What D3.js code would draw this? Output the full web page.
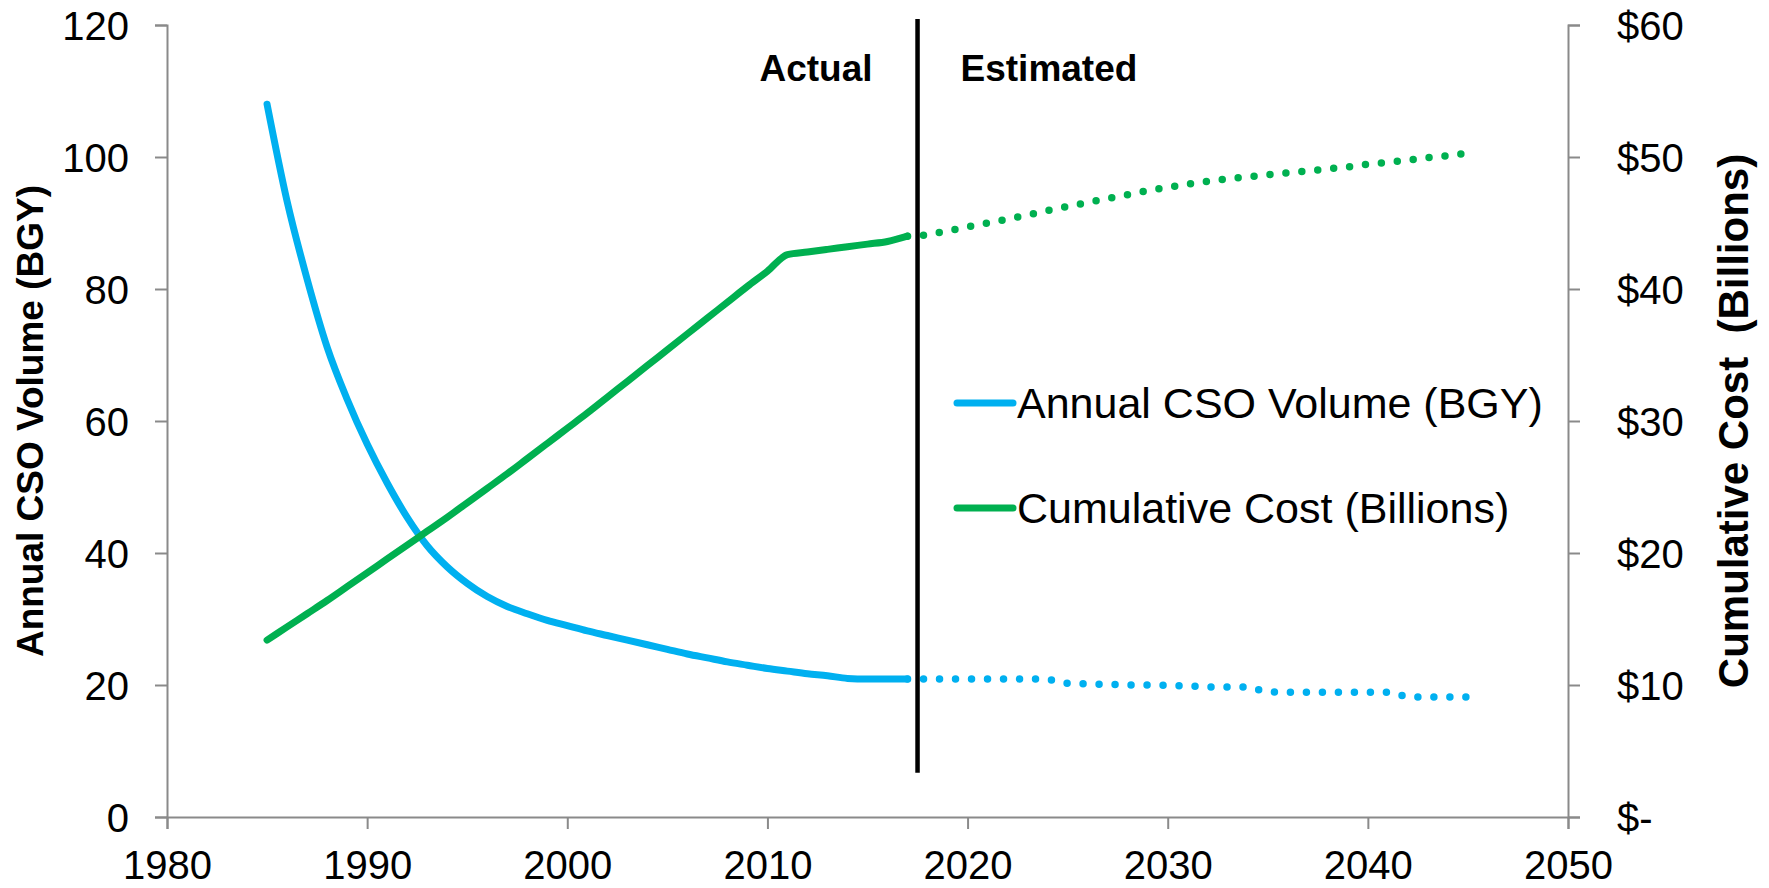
<!DOCTYPE html>
<html>
<head>
<meta charset="utf-8">
<script src="https://cdn.jsdelivr.net/npm/d3@7"></script>
<style>
  html, body { margin: 0; padding: 0; background: #fff; }
  svg { display: block; font-family: "Liberation Sans", Arial, sans-serif; }
</style>
</head>
<body>
<svg id="chart" width="1769" height="888"></svg>
<script>
// ---- Data -------------------------------------------------------------
const actualYears = d3.range(1985, 2018);      // 1985..2017
const estimatedYears = d3.range(2017, 2046);   // 2017..2045

// Annual CSO volume, billion gallons per year (left axis)
const volumeActual = [
  108.0, 93.3, 81.5, 71.2, 63.3, 56.5, 50.6, 45.4, 41.1, 37.9,
  35.4, 33.4, 31.9, 30.8, 29.8, 29.0, 28.2, 27.5, 26.8, 26.1,
  25.4, 24.7, 24.1, 23.5, 23.0, 22.5, 22.1, 21.7, 21.4, 21.0,
  20.9, 20.9, 20.9
];
const volumeEstimated = [
  20.9, 20.9, 20.9, 20.9, 20.9, 20.9, 20.9, 20.9, 20.25, 20.15,
  20.1, 20.0, 20.0, 19.95, 19.85, 19.7, 19.7, 19.7, 18.95, 18.9,
  18.9, 18.9, 18.9, 18.9, 18.9, 18.2, 18.2, 18.2, 18.2
];

// Cumulative cost, billions of dollars (right axis)
const costActual = [
  13.4, 14.4, 15.4, 16.4, 17.45, 18.5, 19.55, 20.6, 21.65, 22.7,
  23.8, 24.9, 26.0, 27.15, 28.3, 29.45, 30.6, 31.8, 33.0, 34.2,
  35.4, 36.6, 37.8, 39.0, 40.2, 41.35, 42.6, 42.8, 43.0, 43.2,
  43.4, 43.6, 44.0
];
const costEstimated = [
  44.0, 44.1, 44.4, 44.7, 45.0, 45.3, 45.6, 45.95, 46.25, 46.55,
  46.85, 47.15, 47.45, 47.7, 47.95, 48.15, 48.35, 48.5, 48.65, 48.8,
  48.95, 49.1, 49.25, 49.45, 49.6, 49.75, 49.95, 50.1, 50.3
];

const xTicks = [1980, 1990, 2000, 2010, 2020, 2030, 2040, 2050];
const leftTicks = [0, 20, 40, 60, 80, 100, 120];
const rightTicks = [0, 10, 20, 30, 40, 50, 60];

// Boundary between actual and estimated figures
const dividerYear = 2017.5;
const dividerSpan = [6.7, 120.9];   // in left-axis units

const seriesNames = ["Annual CSO Volume (BGY)", "Cumulative Cost (Billions)"];

// ---- Layout -----------------------------------------------------------
const W = 1769, H = 888;
const margin = { top: 25, right: 201, bottom: 71, left: 167 };
const BLUE = "#00B0F0", GREEN = "#00B050", AXIS = "#8a8a8a";

const svg = d3.select("#chart");

const x = d3.scaleLinear().domain([1980, 2050]).range([margin.left, W - margin.right]);
const yL = d3.scaleLinear().domain([0, 120]).range([H - margin.bottom, margin.top]);
const yR = d3.scaleLinear().domain([0, 60]).range([H - margin.bottom, margin.top]);

// ---- Axes -------------------------------------------------------------
function styleAxis(g) {
  g.attr("font-family", null);
  g.select(".domain").attr("stroke", AXIS).attr("stroke-width", 2);
  g.selectAll(".tick line").attr("stroke", AXIS).attr("stroke-width", 2);
  g.selectAll(".tick text").attr("fill", "#000").style("font-size", "40px");
}

svg.append("g")
  .attr("transform", `translate(0,${H - margin.bottom})`)
  .call(d3.axisBottom(x).tickValues(xTicks).tickFormat(d3.format("d"))
    .tickSizeOuter(0).tickSize(12).tickPadding(22))
  .call(styleAxis);

svg.append("g")
  .attr("transform", `translate(${margin.left},0)`)
  .call(d3.axisLeft(yL).tickValues(leftTicks).tickSizeOuter(0).tickSize(12).tickPadding(26))
  .call(styleAxis)
  .call(g => g.selectAll(".tick text").attr("dy", "0.36em"));

svg.append("g")
  .attr("transform", `translate(${W - margin.right},0)`)
  .call(d3.axisRight(yR).tickValues(rightTicks).tickSizeOuter(0).tickSize(12).tickPadding(37)
    .tickFormat(d => d === 0 ? "$-" : "$" + d))
  .call(styleAxis)
  .call(g => g.selectAll(".tick text").attr("dy", "0.36em"));

// Axis titles
svg.append("text")
  .attr("transform", `translate(43,${(yL(0) + yL(120)) / 2}) rotate(-90)`)
  .attr("text-anchor", "middle")
  .style("font-size", "37px").style("font-weight", "bold")
  .text("Annual CSO Volume (BGY)");

svg.append("text")
  .attr("transform", `translate(1748,${(yR(0) + yR(60)) / 2}) rotate(-90)`)
  .attr("text-anchor", "middle")
  .style("font-size", "42px").style("font-weight", "bold")
  .style("white-space", "pre")
  .text("Cumulative Cost  (Billions)");

// ---- Lines ------------------------------------------------------------
const smooth = (yScale) => d3.line()
  .x(d => x(d[0])).y(d => yScale(d[1])).curve(d3.curveMonotoneX);
const straight = (yScale) => d3.line()
  .x(d => x(d[0])).y(d => yScale(d[1]));

function drawLine(years, values, gen, color, dotted) {
  const p = svg.append("path")
    .datum(d3.zip(years, values))
    .attr("fill", "none")
    .attr("stroke", color)
    .attr("stroke-width", dotted ? 7.5 : 7)
    .attr("stroke-linecap", "round")
    .attr("stroke-linejoin", "round")
    .attr("d", gen);
  if (dotted) p.attr("stroke-dasharray", "0 16");
}

drawLine(actualYears, volumeActual, smooth(yL), BLUE, false);
drawLine(actualYears, costActual, smooth(yR), GREEN, false);
drawLine(estimatedYears, volumeEstimated, straight(yL), BLUE, true);
drawLine(estimatedYears, costEstimated, straight(yR), GREEN, true);

// Divider between actual and estimated periods
svg.append("line")
  .attr("x1", x(dividerYear)).attr("x2", x(dividerYear))
  .attr("y1", yL(dividerSpan[1])).attr("y2", yL(dividerSpan[0]))
  .attr("stroke", "#000").attr("stroke-width", 4.5);

svg.append("text")
  .attr("x", x(dividerYear) - 45).attr("y", 81)
  .attr("text-anchor", "end")
  .style("font-size", "37px").style("font-weight", "bold")
  .text("Actual");

svg.append("text")
  .attr("x", x(dividerYear) + 43).attr("y", 81)
  .attr("text-anchor", "start")
  .style("font-size", "37px").style("font-weight", "bold")
  .text("Estimated");

// ---- Legend -----------------------------------------------------------
const legend = svg.append("g").attr("transform", "translate(957,403)");
[BLUE, GREEN].forEach((c, i) => {
  const row = legend.append("g").attr("transform", `translate(0,${i * 105})`);
  row.append("line")
    .attr("x1", 0).attr("x2", 56).attr("y1", 0).attr("y2", 0)
    .attr("stroke", c).attr("stroke-width", 7).attr("stroke-linecap", "round");
  row.append("text")
    .attr("x", 60).attr("y", 15)
    .style("font-size", "43px")
    .text(seriesNames[i]);
});
</script>
</body>
</html>
